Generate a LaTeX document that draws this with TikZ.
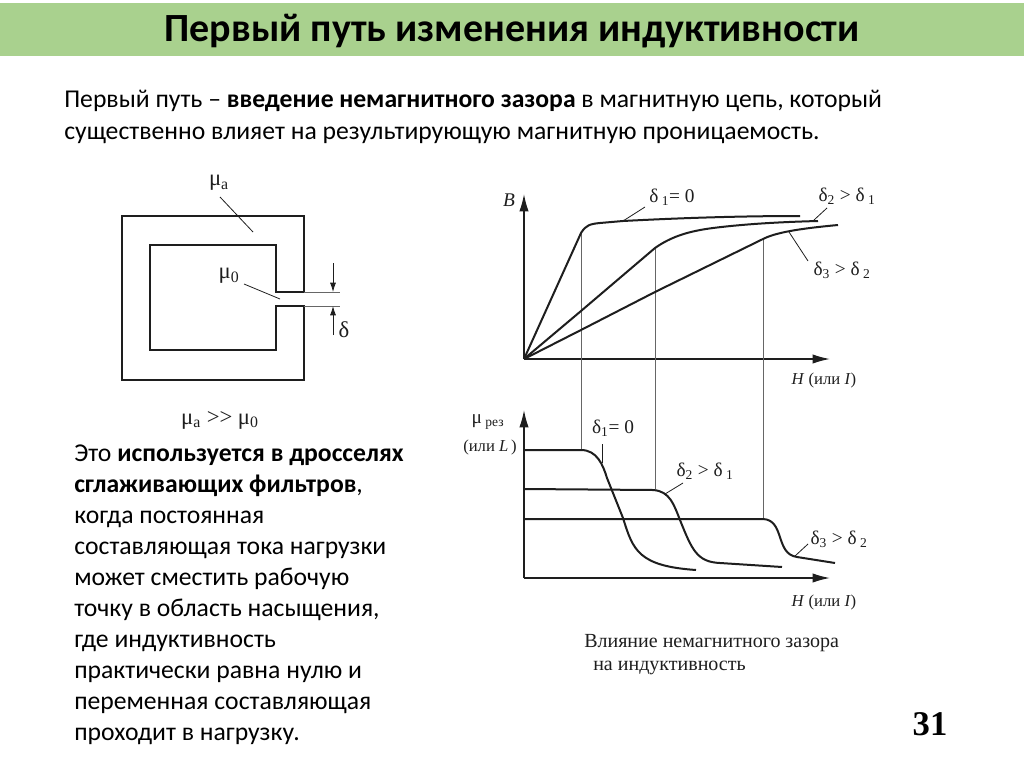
\documentclass[tikz,border=0pt]{standalone}
\usepackage{fontspec}
\setmainfont{Carlito}
\newfontfamily\labelfont{Liberation Serif}
\usetikzlibrary{arrows.meta}
\definecolor{bannergreen}{RGB}{169,209,142}
\definecolor{inkgray}{RGB}{30,30,30}
\tikzset{
  slidetext/.style={inner sep=0pt,anchor=base west,font=\fontsize{19.25}{19}\selectfont,text=black},
  lbl/.style={inner sep=0pt,font=\labelfont\fontsize{14.5}{14}\selectfont,text=inkgray},
  bigl/.style={lbl,font=\labelfont\fontsize{17}{17}\selectfont},
  smalll/.style={lbl,font=\labelfont\fontsize{12.5}{13}\selectfont},
  caplbl/.style={lbl,anchor=base west,font=\labelfont\fontsize{15}{15}\selectfont},
  curve/.style={line width=1.5pt,inkgray},
  thin line/.style={line width=0.6pt,black!60},
  leader/.style={line width=0.6pt,inkgray},
  axis/.style={line width=1.1pt,inkgray,-{Latex[length=13pt,width=7pt]}},
}
\begin{document}
\begin{tikzpicture}[x=0.75pt,y=-0.75pt]
\useasboundingbox (0,0) rectangle (1024,767);
\fill[white] (0,0) rectangle (1024,767);
\fill[bannergreen] (0,3.5) rectangle (1024,56.5);
\node[inner sep=0pt,anchor=base,font=\fontsize{30}{30}\selectfont\bfseries] (title) at (512,42) {Первый путь изменения индуктивности};

% top text
\node[slidetext] (intro1) at (64,108) {Первый путь -- \textbf{введение немагнитного зазора} в магнитную цепь, который};
\node[slidetext] (intro2) at (64,139) {существенно влияет на результирующую магнитную проницаемость.};

% left text
\foreach \i/\y/\t in {a/461/{Это \textbf{используется в дросселях}},b/492/{\textbf{сглаживающих фильтров},},c/523/{когда постоянная},d/554/{составляющая тока нагрузки},e/585/{может сместить рабочую},f/616/{точку в область насыщения,},g/647/{где индуктивность},h/678/{практически равна нулю и},j/709/{переменная составляющая},k/740/{проходит в нагрузку.}}
  \node[slidetext] (use\i) at (74,\y) {\t};

\node[inner sep=0pt,font=\labelfont\fontsize{26}{26}\selectfont\bfseries] (pagenum) at (930,724) {31};

% magnetic core
\draw[curve,line width=1.4pt] (304,292) -- (304,216) -- (122,216) -- (122,380) -- (304,380) -- (304,306) -- (276,306) -- (276,350) -- (150,350) -- (150,245) -- (276,245) -- (276,292) -- cycle;
\draw[thin line] (304,292) -- (340,292) (304,306) -- (340,306);
\draw[leader,-{Latex[length=7pt,width=4.5pt]}] (333,263) -- (333,292);
\draw[leader,-{Latex[length=7pt,width=4.5pt]}] (333,335) -- (333,306);
\draw[leader] (220,197) -- (253,232);
\draw[leader] (244,284) -- (280,299);
\node[bigl] (mua) at (219,183) {μ\textsubscript{a}};
\node[bigl] (mu0) at (229,276) {μ\textsubscript{0}};
\node[bigl] (gap) at (344,330) {δ};
\node[bigl] (ineq) at (220,420) {μ\textsubscript{a} >> μ\textsubscript{0}};

% B(H)
\draw[axis] (524,359) -- (524,194);
\draw[axis] (524,359) -- (830,359);
\draw[thin line] (581,233) -- (581,450);
\draw[thin line] (655,248) -- (655,489);
\draw[thin line] (763,239) -- (763,519);
\draw[curve] (524,359) -- (581,233) .. controls (586,225) and (590,224) .. (600,223) -- (623,221) .. controls (680,218) and (740,216) .. (800,216);
\draw[curve] (524,359) -- (581,311) -- (655,248) .. controls (672,236) and (690,231) .. (713,228) .. controls (745,224) and (780,222) .. (818,221);
\draw[curve] (524,359) -- (581,330) -- (655,292) -- (763,239) .. controls (775,233) and (795,229) .. (838,225);
\draw[leader] (645,207) -- (623,221);
\draw[leader] (827,208) -- (814,220);
\draw[leader] (808,261) -- (789,232);
\node[lbl] (axisB) at (509,200) {\textit{B}};
\node[lbl] (d1up) at (672,197) {δ\,\textsubscript{1}= 0};
\node[lbl] (d2up) at (847,196) {δ\textsubscript{2} > δ\,\textsubscript{1}};
\node[lbl] (d3up) at (842,270) {δ\textsubscript{3} > δ\,\textsubscript{2}};
\node[smalll] (axisHup) at (824,380) {\textit{H} (или \textit{I})};

% mu(H)
\draw[axis] (524,578) -- (524,410);
\draw[axis] (524,578) -- (830,578);
\draw[curve] (524,450) -- (581,450) .. controls (597,450) and (603,465) .. (607,478) -- (623,518) .. controls (633,550) and (638,566) .. (696,570);
\draw[curve] (524,489) -- (653,490) .. controls (670,491) and (674,505) .. (680,520) .. controls (692,550) and (697,562) .. (720,563) -- (782,567);
\draw[curve] (524,519) -- (763,519) .. controls (785,520) and (775,554) .. (797,557) -- (835,563);
\draw[leader] (602,444) -- (602,463);
\draw[leader] (683,483) -- (665,494);
\draw[leader] (808,544) -- (795,556);
\node[lbl] (murez) at (488,422) {μ\,\textsubscript{рез}};
\node[smalll] (orL) at (490,447) {(или \textit{L}\,)};
\node[lbl] (d1low) at (613,428) {δ\textsubscript{1}= 0};
\node[lbl] (d2low) at (705,471) {δ\textsubscript{2} > δ\,\textsubscript{1}};
\node[lbl] (d3low) at (839,539) {δ\textsubscript{3} > δ\,\textsubscript{2}};
\node[smalll] (axisHlow) at (824,602) {\textit{H} (или \textit{I})};
\node[caplbl] (cap1) at (584,647) {Влияние немагнитного зазора};
\node[caplbl] (cap2) at (593,670) {на индуктивность};
\end{tikzpicture}
\end{document}
